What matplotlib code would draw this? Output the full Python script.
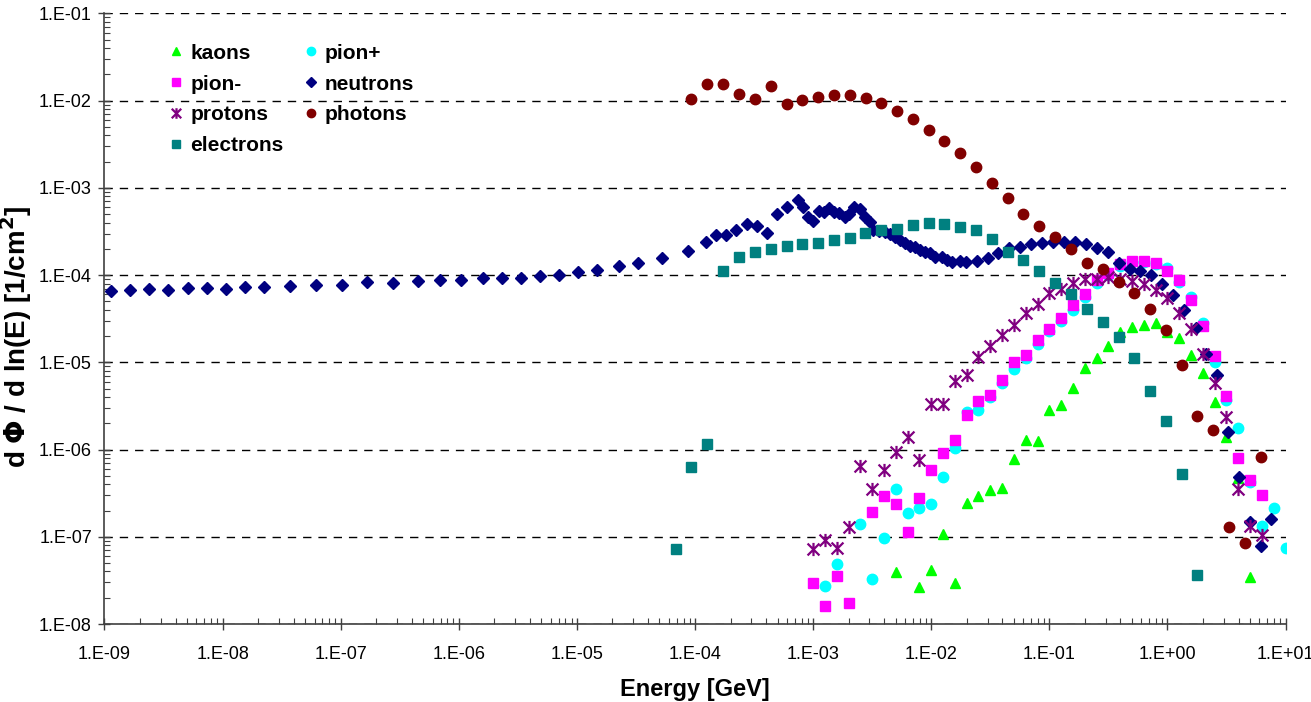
import math
import matplotlib
matplotlib.use("Agg")
import matplotlib.pyplot as plt
from matplotlib.path import Path
from matplotlib.ticker import LogLocator, FuncFormatter, NullFormatter

plt.rcParams["font.family"] = ["Liberation Sans", "DejaVu Sans"]

# energy grid used by the hadron tallies (GeV)
kaon_e = [5.01e-3, 7.94e-3, 1.00e-2, 1.26e-2, 1.58e-2, 2.00e-2, 2.51e-2, 3.16e-2, 3.98e-2, 5.01e-2,
          6.31e-2, 7.94e-2, 0.100, 0.126, 0.158, 0.200, 0.251, 0.316, 0.398, 0.501,
          0.631, 0.794, 1.00, 1.26, 1.58, 2.00, 2.51, 3.16, 3.98, 5.01]
kaon_f = [3.94e-8, 2.63e-8, 4.15e-8, 1.07e-7, 2.97e-8, 2.47e-7, 2.93e-7, 3.46e-7, 3.59e-7, 7.78e-7,
          1.29e-6, 1.26e-6, 2.84e-6, 3.24e-6, 5.04e-6, 8.53e-6, 1.13e-5, 1.55e-5, 2.22e-5, 2.54e-5,
          2.66e-5, 2.82e-5, 2.24e-5, 1.88e-5, 1.20e-5, 7.60e-6, 3.48e-6, 1.38e-6, 4.75e-7, 3.42e-8]

pionp_e = [1.26e-3, 1.58e-3, 2.51e-3, 3.16e-3, 3.98e-3, 5.01e-3, 6.31e-3, 7.94e-3, 1.00e-2, 1.26e-2,
           1.58e-2, 2.00e-2, 2.51e-2, 3.16e-2, 3.98e-2, 5.01e-2, 6.31e-2, 7.94e-2, 0.100, 0.126,
           0.158, 0.200, 0.251, 0.316, 0.398, 0.501, 0.631, 0.794, 1.00, 1.26,
           1.58, 2.00, 2.51, 3.16, 3.98, 5.01, 6.31, 7.94, 10.0]
pionp_f = [2.72e-8, 4.82e-8, 1.41e-7, 3.27e-8, 9.59e-8, 3.50e-7, 1.85e-7, 2.12e-7, 2.35e-7, 4.88e-7,
           1.03e-6, 2.71e-6, 2.84e-6, 4.00e-6, 5.74e-6, 8.38e-6, 1.12e-5, 1.62e-5, 2.29e-5, 2.95e-5,
           3.98e-5, 5.61e-5, 8.05e-5, 1.00e-4, 1.27e-4, 1.42e-4, 1.42e-4, 1.35e-4, 1.20e-4, 8.33e-5,
           5.65e-5, 2.80e-5, 1.02e-5, 3.70e-6, 1.75e-6, 4.28e-7, 1.33e-7, 2.12e-7, 7.36e-8]

pionm_e = [1.00e-3, 1.26e-3, 1.58e-3, 2.00e-3, 3.16e-3, 3.98e-3, 5.01e-3, 6.31e-3, 7.94e-3, 1.00e-2,
           1.26e-2, 1.58e-2, 2.00e-2, 2.51e-2, 3.16e-2, 3.98e-2, 5.01e-2, 6.31e-2, 7.94e-2, 0.100,
           0.126, 0.158, 0.200, 0.251, 0.316, 0.398, 0.501, 0.631, 0.794, 1.00,
           1.26, 1.58, 2.00, 2.51, 3.16, 3.98, 5.01, 6.31]
pionm_f = [2.97e-8, 1.60e-8, 3.57e-8, 1.72e-8, 1.92e-7, 2.93e-7, 2.37e-7, 1.13e-7, 2.75e-7, 5.86e-7,
           9.12e-7, 1.28e-6, 2.49e-6, 3.60e-6, 4.25e-6, 6.27e-6, 1.02e-5, 1.20e-5, 1.79e-5, 2.43e-5,
           3.20e-5, 4.51e-5, 6.07e-5, 8.79e-5, 1.07e-4, 1.33e-4, 1.45e-4, 1.45e-4, 1.37e-4, 1.11e-4,
           8.71e-5, 5.18e-5, 2.63e-5, 1.18e-5, 4.11e-6, 8.00e-7, 4.51e-7, 3.03e-7]

neutron_e = [1.13e-9, 1.64e-9, 2.39e-9, 3.47e-9, 5.06e-9, 7.33e-9, 1.07e-8, 1.55e-8, 2.26e-8, 3.72e-8,
             6.18e-8, 1.03e-7, 1.68e-7, 2.75e-7, 4.54e-7, 6.93e-7, 1.04e-6, 1.59e-6, 2.31e-6, 3.36e-6,
             4.88e-6, 7.10e-6, 1.03e-5, 1.47e-5, 2.27e-5, 3.29e-5, 5.26e-5, 8.67e-5, 1.23e-4, 1.51e-4,
             1.83e-4, 2.24e-4, 2.74e-4, 3.33e-4, 4.05e-4, 4.98e-4, 6.05e-4, 7.50e-4, 8.21e-4, 9.12e-4,
             1.00e-3, 1.12e-3, 1.24e-3, 1.36e-3, 1.50e-3, 1.67e-3, 1.85e-3, 2.03e-3, 2.23e-3, 2.50e-3,
             2.77e-3, 3.03e-3, 3.24e-3, 3.64e-3, 4.07e-3, 4.48e-3, 4.94e-3, 5.45e-3, 6.00e-3, 6.62e-3,
             7.30e-3, 8.04e-3, 8.87e-3, 9.78e-3, 1.08e-2, 1.23e-2, 1.35e-2, 1.49e-2, 1.75e-2, 1.97e-2,
             2.43e-2, 3.01e-2, 3.70e-2, 4.58e-2, 5.65e-2, 7.00e-2, 8.62e-2, 0.108, 0.134, 0.166,
             0.205, 0.254, 0.313, 0.387, 0.480, 0.590, 0.731, 0.906, 1.12, 1.39,
             1.74, 2.13, 2.63, 3.26, 4.02, 4.98, 6.21, 7.59]
neutron_f = [6.58e-5, 6.70e-5, 6.93e-5, 6.80e-5, 7.17e-5, 7.17e-5, 6.98e-5, 7.36e-5, 7.36e-5, 7.50e-5,
             7.70e-5, 7.70e-5, 8.26e-5, 8.18e-5, 8.55e-5, 8.79e-5, 8.79e-5, 9.18e-5, 9.33e-5, 9.33e-5,
             9.77e-5, 1.01e-4, 1.09e-4, 1.15e-4, 1.27e-4, 1.39e-4, 1.58e-4, 1.91e-4, 2.42e-4, 2.91e-4,
             2.86e-4, 3.32e-4, 3.85e-4, 3.63e-4, 3.06e-4, 5.02e-4, 6.00e-4, 7.27e-4, 6.00e-4, 4.67e-4,
             4.21e-4, 5.48e-4, 5.33e-4, 5.83e-4, 5.33e-4, 5.12e-4, 4.60e-4, 5.02e-4, 6.08e-4, 5.69e-4,
             4.67e-4, 4.09e-4, 3.29e-4, 3.23e-4, 3.15e-4, 2.96e-4, 2.75e-4, 2.53e-4, 2.35e-4, 2.16e-4,
             2.08e-4, 1.94e-4, 1.85e-4, 1.78e-4, 1.60e-4, 1.63e-4, 1.49e-4, 1.43e-4, 1.46e-4, 1.41e-4,
             1.46e-4, 1.58e-4, 1.81e-4, 2.03e-4, 2.12e-4, 2.27e-4, 2.32e-4, 2.38e-4, 2.42e-4, 2.38e-4,
             2.29e-4, 2.03e-4, 1.82e-4, 1.39e-4, 1.17e-4, 1.11e-4, 1.00e-4, 7.91e-5, 5.91e-5, 3.98e-5,
             2.49e-5, 1.25e-5, 7.10e-6, 1.57e-6, 4.80e-7, 1.48e-7, 7.88e-8, 1.60e-7]

proton_e = [1.00e-3, 1.26e-3, 1.58e-3, 2.00e-3, 2.51e-3, 3.16e-3, 3.98e-3, 5.01e-3, 6.31e-3, 7.94e-3,
            1.00e-2, 1.26e-2, 1.58e-2, 2.00e-2, 2.51e-2, 3.16e-2, 3.98e-2, 5.01e-2, 6.31e-2, 7.94e-2,
            0.100, 0.126, 0.158, 0.200, 0.251, 0.316, 0.398, 0.501, 0.631, 0.794,
            1.00, 1.26, 1.58, 2.00, 2.51, 3.16, 3.98, 5.01, 6.31]
proton_f = [7.18e-8, 9.24e-8, 7.48e-8, 1.30e-7, 6.47e-7, 3.52e-7, 5.82e-7, 9.29e-7, 1.40e-6, 7.58e-7,
            3.33e-6, 3.31e-6, 6.11e-6, 7.15e-6, 1.16e-5, 1.54e-5, 2.07e-5, 2.68e-5, 3.65e-5, 4.66e-5,
            6.18e-5, 6.87e-5, 8.18e-5, 8.95e-5, 8.95e-5, 9.44e-5, 8.95e-5, 8.63e-5, 7.91e-5, 6.75e-5,
            5.51e-5, 3.65e-5, 2.41e-5, 1.25e-5, 5.74e-6, 2.38e-6, 3.50e-7, 1.33e-7, 1.05e-7]

photon_e = [9.25e-5, 1.27e-4, 1.74e-4, 2.35e-4, 3.21e-4, 4.38e-4, 5.98e-4, 8.10e-4, 1.11e-3, 1.51e-3,
            2.06e-3, 2.79e-3, 3.78e-3, 5.13e-3, 6.97e-3, 9.52e-3, 1.29e-2, 1.76e-2, 2.39e-2, 3.25e-2,
            4.44e-2, 6.03e-2, 8.23e-2, 0.112, 0.154, 0.207, 0.283, 0.387, 0.521, 0.713,
            0.973, 1.32, 1.79, 2.45, 3.34, 4.54, 6.17]
photon_f = [1.05e-2, 1.56e-2, 1.56e-2, 1.20e-2, 1.04e-2, 1.48e-2, 9.24e-3, 1.01e-2, 1.11e-2, 1.16e-2,
            1.15e-2, 1.07e-2, 9.41e-3, 7.68e-3, 6.12e-3, 4.61e-3, 3.48e-3, 2.51e-3, 1.72e-3, 1.15e-3,
            7.60e-4, 5.02e-4, 3.69e-4, 2.71e-4, 1.98e-4, 1.37e-4, 1.17e-4, 8.33e-5, 6.24e-5, 4.08e-5,
            2.35e-5, 9.24e-6, 2.40e-6, 1.66e-6, 1.30e-7, 8.53e-8, 8.20e-7]

electron_e = [6.87e-5, 9.31e-5, 1.27e-4, 1.74e-4, 2.35e-4, 3.21e-4, 4.38e-4, 5.98e-4, 8.10e-4, 1.11e-3,
              1.50e-3, 2.04e-3, 2.77e-3, 3.78e-3, 5.13e-3, 6.97e-3, 9.52e-3, 1.29e-2, 1.76e-2, 2.39e-2,
              3.25e-2, 4.44e-2, 6.03e-2, 8.23e-2, 0.112, 0.154, 0.207, 0.283, 0.387, 0.521,
              0.713, 0.973, 1.32, 1.79]
electron_f = [7.18e-8, 6.30e-7, 1.15e-6, 1.11e-4, 1.60e-4, 1.82e-4, 1.98e-4, 2.16e-4, 2.29e-4, 2.35e-4,
              2.51e-4, 2.64e-4, 3.01e-4, 3.27e-4, 3.35e-4, 3.78e-4, 3.93e-4, 3.90e-4, 3.59e-4, 3.29e-4,
              2.58e-4, 1.84e-4, 1.50e-4, 1.11e-4, 8.05e-5, 6.12e-5, 4.08e-5, 2.88e-5, 1.97e-5, 1.13e-5,
              4.65e-6, 2.14e-6, 5.27e-7, 3.64e-8]

# excel style "star": an x with a vertical stroke through it
star = Path([(-0.9, -0.9), (0.9, 0.9), (-0.9, 0.9), (0.9, -0.9), (0, -1), (0, 1)],
            [Path.MOVETO, Path.LINETO, Path.MOVETO, Path.LINETO, Path.MOVETO, Path.LINETO])

fig = plt.figure(figsize=(13.11, 7.02), dpi=100)
ax = fig.add_axes([0.0797, 0.1111, 0.9009, 0.8697])

h = {}
h["kaons"], = ax.plot(kaon_e, kaon_f, ls="none", marker="^", ms=7.5, color="#00ff00", mec="#00ff00")
h["pion+"], = ax.plot(pionp_e, pionp_f, ls="none", marker="o", ms=7.5, color="#00ffff", mec="#00ffff")
h["pion-"], = ax.plot(pionm_e, pionm_f, ls="none", marker="s", ms=7, color="#ff00ff", mec="#ff00ff")
h["neutrons"], = ax.plot(neutron_e, neutron_f, ls="none", marker="D", ms=6, color="#000080", mec="#000080")
h["protons"], = ax.plot(proton_e, proton_f, ls="none", marker=star, ms=9.5, mfc="none",
                        mec="#800080", mew=1.6)
h["photons"], = ax.plot(photon_e, photon_f, ls="none", marker="o", ms=7.5, color="#800000", mec="#800000")
h["electrons"], = ax.plot(electron_e, electron_f, ls="none", marker="s", ms=7, color="#008080", mec="#008080")

ax.set_xscale("log")
ax.set_yscale("log")
ax.set_xlim(1e-9, 1e1)
ax.set_ylim(1e-8, 1e-1)

ax.xaxis.set_major_locator(LogLocator(base=10, numticks=20))
ax.yaxis.set_major_locator(LogLocator(base=10, numticks=20))
ax.xaxis.set_minor_locator(LogLocator(base=10, subs=range(2, 10), numticks=200))
ax.yaxis.set_minor_locator(LogLocator(base=10, subs=range(2, 10), numticks=200))
ax.xaxis.set_minor_formatter(NullFormatter())
ax.yaxis.set_minor_formatter(NullFormatter())

sci = FuncFormatter(lambda v, p: "1.E%+03d" % round(math.log10(v)))
ax.xaxis.set_major_formatter(sci)
ax.yaxis.set_major_formatter(sci)

ax.tick_params(which="major", direction="inout", length=8, width=1, color="#404040",
               labelsize=13)
ax.tick_params(axis="x", which="major", pad=12)
ax.tick_params(axis="y", which="major", pad=5)
ax.tick_params(which="minor", direction="in", length=4, width=0.8, color="#404040")

for s in ["top", "right"]:
    ax.spines[s].set_visible(False)
for s in ["left", "bottom"]:
    ax.spines[s].set_color("#404040")
    ax.spines[s].set_linewidth(1.2)

ax.yaxis.grid(True, which="major", color="black", ls=(0, (6, 5)), lw=1)
ax.set_axisbelow(True)

ax.set_xlabel("Energy [GeV]", fontsize=17, fontweight="bold")
ax.xaxis.set_label_coords(0.5, -0.088)
ax.set_ylabel(r"d $\mathbf{\Phi}$ / d ln(E) [1/cm$^\mathbf{2}$]", fontsize=20, fontweight="bold")
ax.yaxis.set_label_coords(-0.060, 0.47)

order = ["kaons", "pion-", "protons", "electrons", "pion+", "neutrons", "photons"]
leg = ax.legend([h[k] for k in order], order, ncol=2, loc="upper left",
                bbox_to_anchor=(0.045, 0.9675), frameon=False, prop={"weight": "bold", "size": 15},
                borderpad=0, handlelength=0.8, handletextpad=0.27, labelspacing=0.57,
                columnspacing=0.9, markerscale=0.8)

fig.savefig("out.png", dpi=100)
